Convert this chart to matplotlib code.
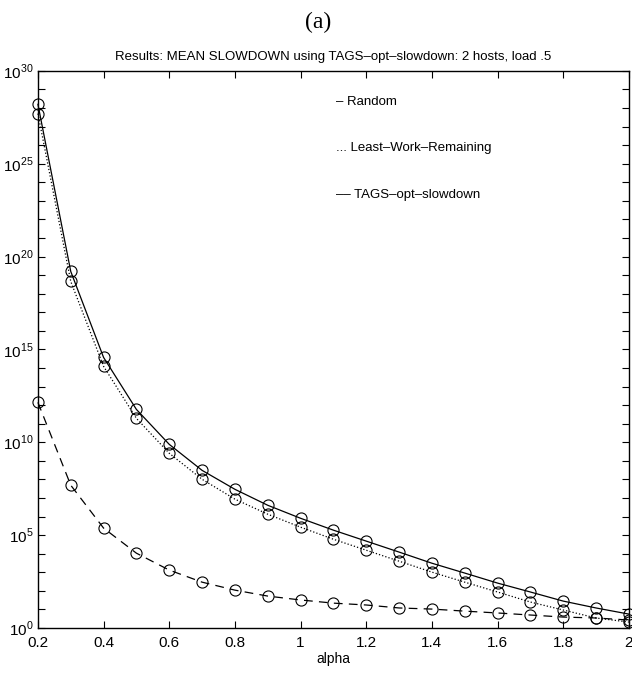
"""
Mean slowdown vs alpha for Random, Least-Work-Remaining and TAGS-opt-slowdown
(2 hosts, load .5), log scale on y.
"""
import matplotlib
matplotlib.use('Agg')
import matplotlib.pyplot as plt
import numpy as np

alpha = [0.2, 0.3, 0.4, 0.5, 0.6, 0.7, 0.8, 0.9, 1.0, 1.1,
         1.2, 1.3, 1.4, 1.5, 1.6, 1.7, 1.8, 1.9, 2.0]

# log10 of mean slowdown
log_random = [28.2, 19.2, 14.57, 11.77, 9.89, 8.49, 7.47, 6.61, 5.91, 5.27,
              4.68, 4.09, 3.49, 2.96, 2.42, 1.94, 1.45, 1.08, 0.75]
log_lwr = [27.7, 18.66, 14.09, 11.29, 9.41, 8.01, 6.94, 6.13, 5.43, 4.78,
           4.19, 3.60, 3.01, 2.47, 1.94, 1.40, 0.97, 0.54, 0.32]
log_tags = [12.15, 7.69, 5.38, 4.03, 3.12, 2.47, 2.04, 1.72, 1.51, 1.34,
            1.24, 1.08, 1.02, 0.91, 0.81, 0.70, 0.59, 0.54, 0.43]

plt.rcParams['font.family'] = 'Liberation Sans'
plt.rcParams['mathtext.fontset'] = 'custom'
plt.rcParams['mathtext.rm'] = 'Liberation Sans'

fig = plt.figure(figsize=(6.32, 6.75), dpi=100)
ax = fig.add_axes([0.060, 0.0696, 0.935, 0.8254])

mk = dict(marker='o', markersize=8, markerfacecolor='none',
          markeredgecolor='black', markeredgewidth=0.8, clip_on=False)
ax.plot(alpha, 10 ** np.array(log_random), color='black', linestyle='-',
        linewidth=0.9, **mk)
ax.plot(alpha, 10 ** np.array(log_lwr), color='black', linestyle=':',
        linewidth=0.9, **mk)
ax.plot(alpha, 10 ** np.array(log_tags), color='black', linestyle=(0, (7, 5)),
        linewidth=0.9, **mk)

ax.set_yscale('log')
ax.set_xlim(0.2, 2.0)
ax.set_ylim(1, 1e30)
ax.set_xticks(np.arange(0.2, 2.01, 0.2))
ax.set_xticklabels(['0.2', '0.4', '0.6', '0.8', '1', '1.2', '1.4', '1.6', '1.8', '2'])
ax.set_yticks([10.0 ** k for k in range(0, 31, 5)])
ax.set_yticklabels([r'$10^{%d}$' % k for k in range(0, 31, 5)])
ax.xaxis.set_minor_locator(matplotlib.ticker.NullLocator())
ax.set_yticks([10.0 ** k for k in range(0, 31)], minor=True)
ax.yaxis.set_minor_formatter(matplotlib.ticker.NullFormatter())
ax.tick_params(which='both', direction='in', top=True, right=True,
               labelsize=11, width=0.8, length=5)
ax.tick_params(axis='x', pad=6)
ax.tick_params(axis='y', pad=3)
for s in ax.spines.values():
    s.set_linewidth(1.0)

ax.set_xlabel('alpha', fontsize=10, labelpad=1)
ax.set_title('Results: MEAN SLOWDOWN using TAGS\u2013opt\u2013slowdown: 2 hosts, load .5',
             fontsize=9.5, pad=8)
fig.text(0.503, 0.967, '(a)', family='Liberation Serif', fontsize=17,
         ha='center', va='center')

ax.text(0.505, 0.944, '\u2013 Random', transform=ax.transAxes, fontsize=9.5,
        va='center')
ax.text(0.505, 0.862, '... Least\u2013Work\u2013Remaining', transform=ax.transAxes,
        fontsize=9.5, va='center')
ax.text(0.505, 0.777, '\u2013\u2013 TAGS\u2013opt\u2013slowdown', transform=ax.transAxes,
        fontsize=9.5, va='center')

plt.savefig('out.png', dpi=100)
plt.close(fig)
